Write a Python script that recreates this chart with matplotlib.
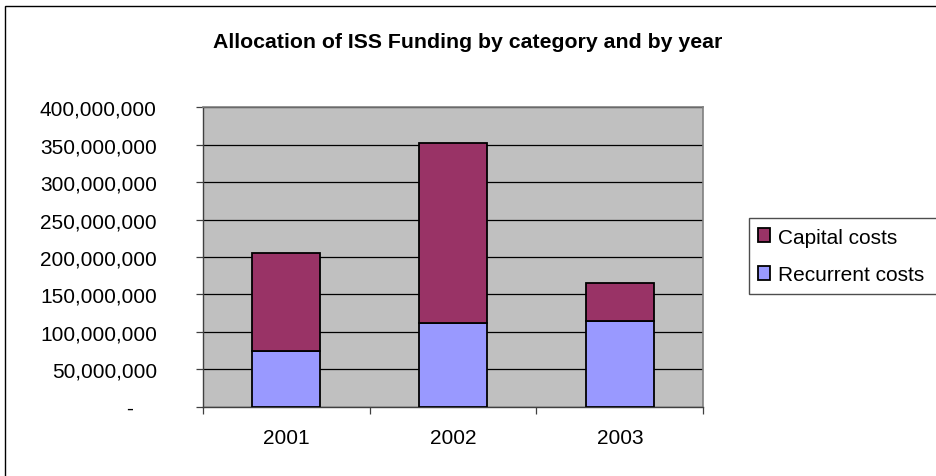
import matplotlib.pyplot as plt
from matplotlib.patches import Rectangle
from matplotlib.ticker import FuncFormatter, FixedLocator

plt.rcParams['font.family'] = ['Liberation Sans', 'DejaVu Sans']

years = ['2001', '2002', '2003']
recurrent = [75_000_000, 112_000_000, 114_000_000]
capital = [130_000_000, 240_000_000, 51_000_000]
y_ticks = [0, 50_000_000, 100_000_000, 150_000_000, 200_000_000,
           250_000_000, 300_000_000, 350_000_000, 400_000_000]

W, H = 937, 477
fig = plt.figure(figsize=(W / 100, H / 100), dpi=100)

# outer chart border (runs off the right and bottom edges)
fig.patches.append(Rectangle((5 / W, -0.1), 1.2, 1 - 7 / H + 0.1,
                             transform=fig.transFigure, fill=False,
                             edgecolor='black', linewidth=1.0))

ax = fig.add_axes([202.7 / W, 1 - 407.7 / H, 500.6 / W, 299.4 / H])
ax.set_facecolor('#C0C0C0')

x = range(len(years))
ax.bar(x, recurrent, width=0.41, color='#9999FF', edgecolor='black',
       linewidth=1.3, label='Recurrent costs', zorder=3)
ax.bar(x, capital, bottom=recurrent, width=0.41, color='#993366',
       edgecolor='black', linewidth=1.3, label='Capital costs', zorder=3)

ax.set_xlim(-0.5, 2.5)
ax.set_ylim(0, 400_000_000)
ax.set_yticks(y_ticks)
ax.yaxis.set_major_formatter(
    FuncFormatter(lambda v, pos: '-    ' if v == 0 else f'{v:,.0f}'))
ax.grid(axis='y', color='black', linewidth=0.9, zorder=1)

# category labels centred, tick marks on category boundaries
ax.set_xticks(list(x))
ax.set_xticklabels(years)
ax.xaxis.set_minor_locator(FixedLocator([-0.5, 0.5, 1.5, 2.5]))
ax.tick_params(axis='x', which='major', length=0, pad=15, labelsize=15)
ax.tick_params(axis='x', which='minor', length=5, width=0.9, color='#404040')
ax.tick_params(axis='y', length=5, width=0.9, color='#404040', labelsize=15, pad=28)

for side in ['top', 'right']:
    ax.spines[side].set_color('#808080')
    ax.spines[side].set_linewidth(1.2)
for side in ['left', 'bottom']:
    ax.spines[side].set_color('#404040')
    ax.spines[side].set_linewidth(1.0)

fig.text(468 / W, 1 - 42 / H, 'Allocation of ISS Funding by category and by year',
         ha='center', va='center', fontsize=15.3, fontweight='bold')

handles, labels = ax.get_legend_handles_labels()
leg = fig.legend(handles[::-1], labels[::-1], loc='center left',
                 bbox_to_anchor=(749 / W, 1 - 296 / H, 200 / W, 78 / H),
                 mode='expand', fontsize=15, frameon=True, fancybox=False,
                 edgecolor='#202020', handlelength=0.55, handleheight=0.65,
                 handletextpad=0.4, labelspacing=0.9, borderpad=0.45,
                 borderaxespad=0)
leg.get_frame().set_linewidth(1.0)

fig.savefig('out.png', dpi=100)
